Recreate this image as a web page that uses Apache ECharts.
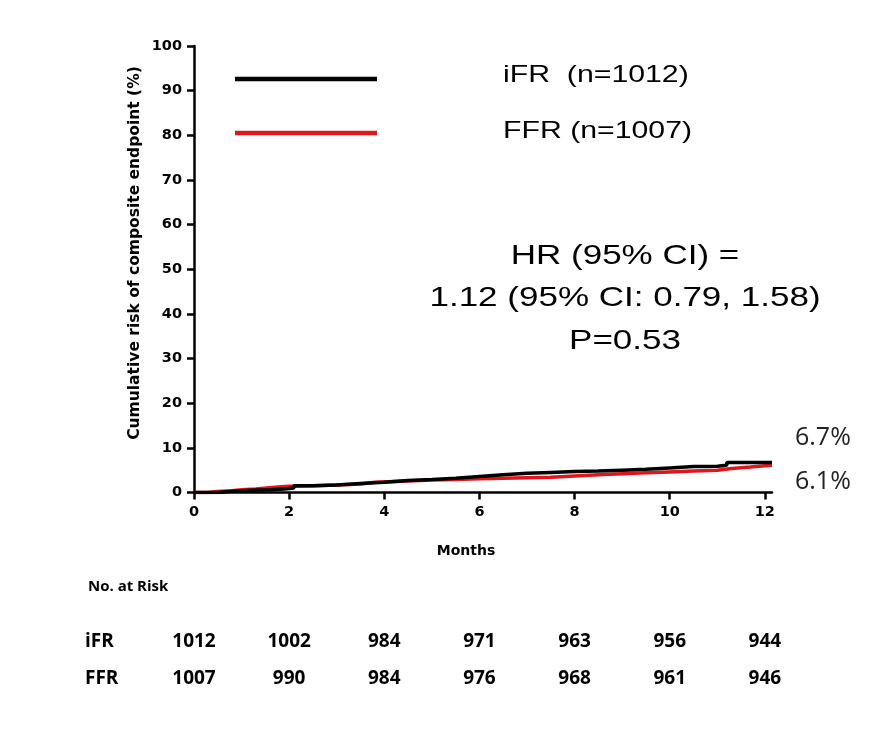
<!DOCTYPE html>
<html>
<head>
<meta charset="utf-8">
<script src="https://cdn.jsdelivr.net/npm/echarts@6/dist/echarts.min.js"></script>
<style>
  html, body { margin: 0; padding: 0; background: #fff; }
  #chart { width: 871px; height: 735px; }
</style>
</head>
<body>
<div id="chart"></div>
<script>
// Kaplan-Meier style cumulative event curves (months, %)
const ifrCurve = [
  [0, 0], [0.5, 0.3], [0.8, 0.5], [1.2, 0.6], [1.6, 0.8], [1.9, 1.0], [2.1, 1.5],
  [2.5, 1.7], [3.0, 2.0], [3.5, 2.3], [4.0, 2.7], [4.5, 2.9], [5.0, 3.2], [5.5, 3.6],
  [6.0, 4.0], [6.5, 4.3], [7.0, 4.5], [7.5, 4.7], [8.0, 4.8], [8.5, 5.0], [9.0, 5.2],
  [9.5, 5.5], [10.0, 5.8], [10.5, 5.9], [11.0, 6.1], [11.2, 6.7], [12.15, 6.7]
];
const ffrCurve = [
  [0, 0], [0.3, 0.2], [0.5, 0.4], [0.8, 0.6], [1.0, 0.8], [1.3, 1.2], [1.7, 1.4],
  [2.0, 1.5], [2.5, 1.7], [3.0, 1.9], [3.5, 2.3], [3.8, 2.6], [4.5, 2.8], [5.0, 2.9],
  [5.5, 3.1], [6.0, 3.2], [6.5, 3.3], [7.0, 3.4], [7.5, 3.7], [8.0, 4.0], [8.5, 4.2],
  [9.0, 4.4], [9.5, 4.6], [10.0, 4.8], [10.5, 5.0], [11.0, 5.4], [11.3, 5.7],
  [11.7, 6.0], [12.0, 6.1], [12.15, 6.1]
];

// Series labels and colours
const seriesNames = ['iFR', 'FFR'];
const legendTexts = ['iFR  (n=1012)', 'FFR (n=1007)'];
const seriesColors = ['#000000', '#e2141c'];

// Axis titles and ticks
const yTitle = 'Cumulative risk of composite endpoint (%)';
const xTitle = 'Months';
const monthTicks = [0, 2, 4, 6, 8, 10, 12];

// Number at risk
const riskMonths = [0, 2, 4, 6, 8, 10, 12];
const ifrAtRisk = [1012, 1002, 984, 971, 963, 956, 944];
const ffrAtRisk = [1007, 990, 984, 976, 968, 961, 946];

// Hazard ratio annotation
const hrLines = ['HR (95% CI) =', '1.12 (95% CI: 0.79, 1.58)', 'P=0.53'];

const AXIS_FONT = '"DejaVu Sans", sans-serif';
const ARIAL = '"Liberation Sans", Arial, sans-serif';
const SOFT = '"Open Sans", sans-serif';

const chart = echarts.init(document.getElementById('chart'), null, { renderer: 'canvas' });

const tableData = [];
riskMonths.forEach((m, i) => {
  tableData.push([m, 'iFR', ifrAtRisk[i]]);
  tableData.push([m, 'FFR', ffrAtRisk[i]]);
});

const curves = [ifrCurve, ffrCurve];
const endOffsets = [[0, -25], [0, 17]];

const option = {
  backgroundColor: '#ffffff',
  animation: false,
  grid: [
    { left: 194, right: 99, top: 46, bottom: 242.5 },
    { left: 194, right: 99, top: 623.5, height: 74 }
  ],
  xAxis: [
    {
      type: 'value', gridIndex: 0, min: 0, max: 12.15, interval: 2,
      name: xTitle, nameLocation: 'middle', nameGap: 52,
      nameTextStyle: { fontFamily: AXIS_FONT, fontWeight: 'bold', fontSize: 14, color: '#000', padding: [0, 34, 0, 0] },
      axisLine: { show: true, lineStyle: { color: '#000', width: 2.5 } },
      axisTick: { show: true, length: 7, lineStyle: { color: '#000', width: 2.5 }, customValues: monthTicks },
      axisLabel: { fontFamily: AXIS_FONT, fontWeight: 'bold', fontSize: 14.5, color: '#000', margin: 12, customValues: monthTicks },
      splitLine: { show: false }
    },
    { type: 'value', gridIndex: 1, min: 0, max: 12.15, show: false }
  ],
  yAxis: [
    {
      type: 'value', gridIndex: 0, min: 0, max: 100, interval: 10,
      axisLine: { show: true, lineStyle: { color: '#000', width: 2.5 } },
      axisTick: { show: true, length: 7, lineStyle: { color: '#000', width: 2.5 } },
      axisLabel: { fontFamily: AXIS_FONT, fontWeight: 'bold', fontSize: 14.5, color: '#000', margin: 12 },
      splitLine: { show: false }
    },
    {
      type: 'category', gridIndex: 1, data: seriesNames, inverse: true,
      axisLine: { show: false }, axisTick: { show: false },
      axisLabel: { align: 'left', margin: 109, fontFamily: SOFT, fontWeight: 'bold', fontSize: 19, color: '#000' }
    }
  ],
  series: [
    ...curves.map((c, i) => ({
      name: seriesNames[i],
      type: 'line',
      step: 'end',
      xAxisIndex: 0, yAxisIndex: 0,
      data: c,
      showSymbol: false,
      z: 3 + (1 - i),
      lineStyle: { color: seriesColors[i], width: 3.5 },
      endLabel: {
        show: true,
        formatter: p => p.value[1].toFixed(1) + '%',
        distance: 23,
        offset: endOffsets[i],
        fontFamily: SOFT, fontSize: 25, color: '#222'
      }
    })),
    {
      type: 'scatter',
      xAxisIndex: 1, yAxisIndex: 1,
      data: tableData,
      symbolSize: 1,
      itemStyle: { color: 'rgba(0,0,0,0)' },
      label: {
        show: true, position: 'inside',
        formatter: p => String(p.value[2]),
        fontFamily: SOFT, fontWeight: 'bold', fontSize: 19, color: '#000',
        textBorderWidth: 0, opacity: 1
      },
      emphasis: { disabled: true }
    }
  ],
  graphic: [
    // vertical axis title
    {
      type: 'text', x: 135, y: 253, rotation: Math.PI / 2,
      style: { text: yTitle, font: 'bold 15.5px ' + AXIS_FONT, fill: '#000', textAlign: 'center', textVerticalAlign: 'middle' }
    },
    // legend entries
    ...legendTexts.map((t, i) => ({
      type: 'group',
      children: [
        { type: 'line', shape: { x1: 235, y1: 79 + i * 54, x2: 377, y2: 79 + i * 54 },
          style: { stroke: seriesColors[i], lineWidth: 4.5 } },
        { type: 'text', x: 503, y: 75 + i * 56, scaleX: 1.26,
          style: { text: t, font: '24px ' + ARIAL, fill: '#000', textAlign: 'left', textVerticalAlign: 'middle' } }
      ]
    })),
    // hazard ratio block
    ...hrLines.map((t, i) => ({
      type: 'text', x: 625, y: 256 + i * 42.5, scaleX: 1.25,
      style: { text: t, font: '28px ' + ARIAL, fill: '#000', textAlign: 'center', textVerticalAlign: 'middle' }
    })),
    {
      type: 'text', x: 88, y: 587,
      style: { text: 'No. at Risk', font: 'bold 15px ' + SOFT, fill: '#000', textAlign: 'left', textVerticalAlign: 'middle' }
    }
  ]
};

chart.setOption(option);
</script>
</body>
</html>
